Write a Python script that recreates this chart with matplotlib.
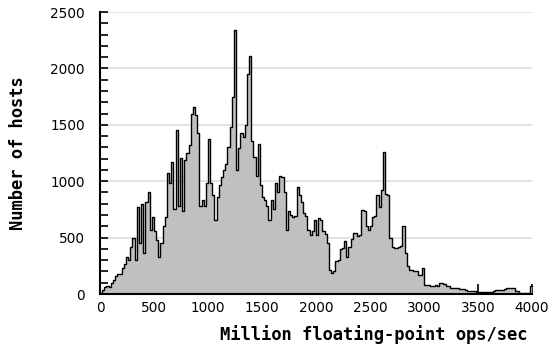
import matplotlib
matplotlib.use('Agg')
import matplotlib.pyplot as plt
import numpy as np

bin_width = 20

# hosts per 20 Mflops bin, starting at 0
hosts_0_1000 = [5, 40, 60, 70, 65, 100, 120, 160, 180, 175,
                230, 270, 330, 300, 420, 500, 300, 770, 450, 800,
                360, 820, 900, 570, 685, 560, 480, 330, 450, 600,
                680, 1070, 980, 1170, 750, 1450, 780, 1210, 740, 1190,
                1250, 1320, 1600, 1655, 1590, 1430, 780, 830, 780, 980]
hosts_1000_2000 = [1375, 980, 880, 655, 860, 965, 1040, 1100, 1150, 1300,
                   1480, 1745, 2340, 1100, 1290, 1430, 1390, 1495, 1950, 2110,
                   1360, 1215, 1050, 1330, 965, 860, 830, 780, 655, 830,
                   750, 980, 900, 1050, 1040, 900, 570, 740, 700, 680,
                   690, 950, 880, 820, 715, 690, 570, 520, 560, 660]
hosts_2000_3000 = [520, 670, 660, 560, 530, 450, 210, 190, 200, 290,
                   300, 400, 410, 470, 330, 420, 490, 540, 540, 510,
                   520, 745, 740, 600, 570, 600, 685, 690, 875, 775,
                   920, 1260, 890, 880, 495, 420, 410, 405, 420, 430,
                   600, 360, 245, 215, 210, 200, 200, 170, 170, 230]
hosts_3000_4000 = [80, 80, 80, 75, 75, 80, 75, 95, 95, 85,
                   70, 70, 55, 55, 55, 50, 45, 45, 45, 40,
                   30, 25, 25, 25, 20, 15, 15, 15, 15, 15,
                   15, 15, 25, 40, 40, 40, 35, 45, 55, 55,
                   50, 55, 25, 25, 10, 10, 10, 10, 10, 70]

hosts = hosts_0_1000 + hosts_1000_2000 + hosts_2000_3000 + hosts_3000_4000
edges = np.arange(len(hosts) + 1) * bin_width
counts = np.array(hosts + [hosts[-1]])

fig = plt.figure(figsize=(5.5, 3.44), dpi=100)
ax = fig.add_axes([0.1818, 0.1453, 0.7855, 0.8198])

ax.fill_between(edges, counts, step='post', color='#c0c0c0', linewidth=0, zorder=2)
ax.step(edges, counts, where='post', color='black', linewidth=1.0, zorder=3)

ax.set_xlim(0, 4000)
ax.set_ylim(0, 2500)
ax.set_xticks(range(0, 4001, 500))
ax.set_yticks(range(0, 2501, 500))
ax.set_yticks(range(0, 2501, 100), minor=True)

ax.grid(True, axis='y', color='#dddddd', linewidth=1.2, zorder=0)
ax.set_axisbelow(True)

for s in ['top', 'right']:
    ax.spines[s].set_visible(False)
for s in ['left', 'bottom']:
    ax.spines[s].set_linewidth(1.5)
    ax.spines[s].set_zorder(4)

ax.tick_params(axis='both', which='both', direction='in', color='black', width=1.2)
ax.tick_params(axis='x', length=7, pad=5, labelsize=9.8)
ax.tick_params(axis='y', which='major', length=6, pad=11, labelsize=9.8)
ax.tick_params(axis='y', which='minor', length=6)
ax.tick_params(axis='x', which='minor', bottom=False)

ax.set_xlabel('Million floating-point ops/sec', family='DejaVu Sans Mono',
              fontweight='bold', fontsize=12.3, ha='right')
ax.xaxis.set_label_coords(0.99, -0.11)
ax.set_ylabel('Number of hosts', family='DejaVu Sans Mono',
              fontweight='bold', fontsize=12.3)
ax.yaxis.set_label_coords(-0.168, 0.5)

fig.savefig('out.png', dpi=100)
